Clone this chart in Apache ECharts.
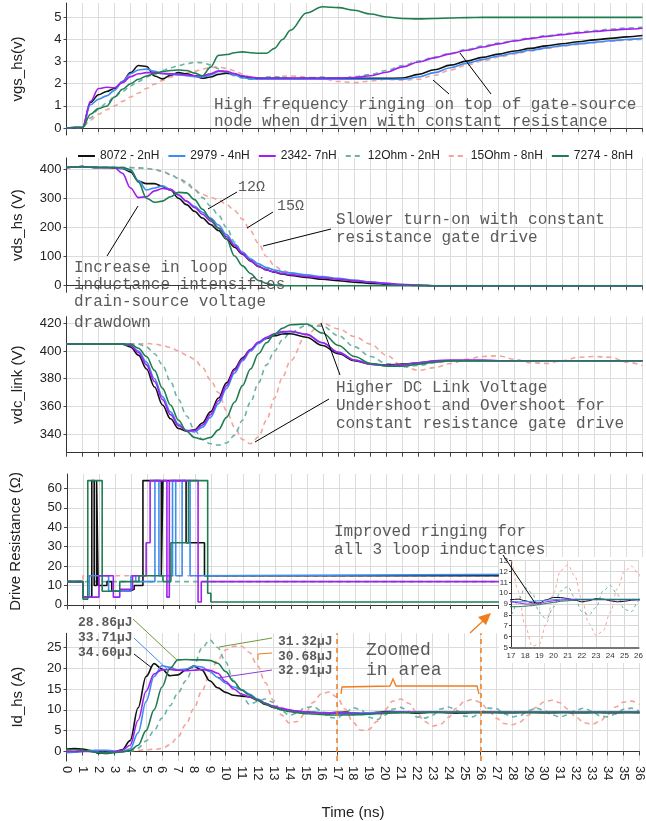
<!DOCTYPE html>
<html>
<head>
<meta charset="utf-8">
<script src="https://cdn.jsdelivr.net/npm/echarts@6/dist/echarts.min.js"></script>
<style>html,body{margin:0;padding:0;background:#fff}#chart{width:646px;height:821px}</style>
</head>
<body>
<div id="chart"></div>
<script>
// series names / legend
const names = ['8072 - 2nH', '2979 - 4nH', '2342- 7nH', '12Ohm - 2nH', '15Ohm - 8nH', '7274 - 8nH'];
const colors = ['#111111', '#3d8cf2', '#a020f0', '#6bb3a6', '#f5a39a', '#1f7d52'];
const dashed = [false, false, false, true, true, false];

// time base for vgs / vds / vdc (ns)
const t1 = [0,0.5,1,1.5,2,2.5,3,3.5,4,4.5,5,5.5,6,6.5,7,7.5,8,8.5,9,9.5,10,10.5,11,11.5,12,12.5,13,13.5,14,
  15,16,17,18,19,20,21,22,23,24,25,26,27,28,29,30,31,32,33,34,35,36];

// vgs_hs (V)
const vgsBlack = [0,0.02,0.02,1.15,1.5,1.65,1.78,2.1,2.5,2.82,2.78,2.35,2.22,2.38,2.5,2.45,2.35,2.25,2.3,2.42,2.48,2.42,2.32,2.26,2.24,2.24,2.24,2.24,2.24,
  2.24,2.24,2.24,2.24,2.24,2.24,2.26,2.42,2.63,2.84,3.02,3.19,3.34,3.48,3.6,3.71,3.81,3.9,3.98,4.05,4.12,4.18];
const vgsBlue = [0,0.02,0.02,1.05,1.3,1.45,1.7,2.1,2.45,2.62,2.66,2.56,2.46,2.42,2.4,2.36,2.32,2.3,2.4,2.55,2.54,2.4,2.28,2.22,2.2,2.2,2.2,2.2,2.2,
  2.2,2.2,2.2,2.2,2.2,2.2,2.2,2.3,2.5,2.72,2.92,3.09,3.25,3.39,3.51,3.62,3.72,3.8,3.87,3.94,4.0,4.05];
const vgsPurple = [0,0.02,0.02,1.2,1.78,1.84,1.82,2.05,2.32,2.45,2.5,2.5,2.46,2.45,2.44,2.4,2.36,2.36,2.45,2.58,2.56,2.46,2.36,2.3,2.26,2.25,2.25,2.25,2.25,
  2.25,2.25,2.26,2.28,2.36,2.52,2.76,2.98,3.17,3.35,3.51,3.66,3.8,3.93,4.04,4.14,4.22,4.3,4.36,4.42,4.47,4.51];
const vgsTeal = [0,0.02,0.02,0.45,0.85,1.12,1.4,1.65,1.9,2.1,2.3,2.45,2.6,2.72,2.82,2.9,2.96,2.95,2.85,2.68,2.5,2.36,2.26,2.2,2.22,2.3,2.32,2.28,2.22,
  2.25,2.3,2.2,2.32,2.42,2.6,2.82,3.02,3.2,3.38,3.55,3.7,3.84,3.96,4.07,4.17,4.25,4.33,4.4,4.47,4.52,4.55];
const vgsSalmon = [0,0.02,0.02,0.35,0.62,0.82,1.0,1.2,1.4,1.58,1.78,1.98,2.15,2.3,2.4,2.48,2.56,2.66,2.73,2.75,2.7,2.58,2.44,2.32,2.24,2.22,2.28,2.34,2.35,
  2.3,2.22,2.1,2.05,2.12,2.2,2.16,2.2,2.38,2.62,2.84,3.03,3.2,3.35,3.48,3.6,3.7,3.78,3.86,3.92,3.97,4.0];
const vgsGreen = [0,0.02,0.02,0.62,0.88,0.98,1.4,1.75,2.0,2.2,2.35,2.45,2.55,2.6,2.62,2.6,2.48,2.36,2.75,3.28,3.32,3.4,3.44,3.4,3.38,3.38,3.6,4.0,4.42,
  5.2,5.48,5.44,5.32,5.15,5.02,4.95,4.93,4.95,4.97,4.99,5,5,5,5,5,5,5,5,5,5,5];

// vds_hs (V)
const vdsBlack = [405,407,408,406,405,405,404,402,390,358,350,350,340,328,300,278,255,232,210,189,160,132,108,85,66,54,46,40,35,
  28,22,17,12,8,5,2.5,1,0,0,0,0,0,0,0,0,0,0,0,0,0,0];
const vdsBlue = [405,407,408,406,405,405,405,403,395,360,328,335,342,330,310,290,272,252,232,208,175,143,115,92,75,62,54,48,44,
  37,31,25,19,13,8,4,1.5,0,0,0,0,0,0,0,0,0,0,0,0,0,0];
const vdsPurple = [405,407,408,406,405,405,405,385,335,302,305,325,333,330,312,290,268,245,222,198,168,138,110,86,66,54,47,42,38,
  32,27,22,17,12,8,4,1.5,0,0,0,0,0,0,0,0,0,0,0,0,0,0];
const vdsTeal = [405,407,408,406,405,405,405,405,405,404,402,398,392,380,368,355,330,302,273,242,200,150,112,88,70,58,50,45,41,
  34,28,22,17,12,8,4,1.5,0,0,0,0,0,0,0,0,0,0,0,0,0,0];
const vdsSalmon = [405,407,408,406,405,405,405,405,405,404,402,398,392,382,368,348,328,313,303,295,278,258,228,188,145,100,68,52,44,
  34,27,21,15,10,5,2,0,0,0,0,0,0,0,0,0,0,0,0,0,0,0];
const vdsGreen = [405,407,408,406,405,405,405,405,398,355,300,286,290,305,320,318,295,262,228,198,160,102,68,42,18,8,2,0,0,
  0,0,0,0,0,0,0,0,0,0,0,0,0,0,0,0,0,0,0,0,0,0];

// vdc_link (V)
const vdcBlack = [405,405,405,405,405,405,405,405,403,397,387,374,361,351,344,342,343,348,356,366,377,387,395,401,406,409,411,412.3,412.5,
  410,404,398,393,390.5,389.8,390.5,391.5,392.5,393,393,393,393,393,393,393,393,393,393,393,393,393];
const vdcBlue = [405,405,405,405,405,405,405,405,404,400,392,380,367,356,347,342.5,341.5,345,352,362,373,384,393,400,405.5,409.5,412,413.5,414,
  412,406,399,393.5,390.5,389.5,390,391.5,392.5,393,393,393,393,393,393,393,393,393,393,393,393,393];
const vdcPurple = [405,405,405,405,405,405,405,405,404,399,390,378,365,354,346,342.5,342.5,346.5,354,364,375,386,394,401,406.5,410,412.5,414,414.3,
  412,406,399,393.5,390.5,389.5,390,391.5,393,393.5,393.5,393.5,393,393,393,393,393,393,393,393,393,393];
const vdcTeal = [405,405,405,405,405,405,405,405,405,405,403,398,390,378,365,353,343,336,333,332,333.5,339,350,363,377,390,400,408,413.5,
  418.5,418,411,403,396,391,388.5,389.5,391.5,393,393,393,393,393,393,393,393,393,393,393,393,393];
const vdcSalmon = [405,405,405,405,405,405,405,405,405,405,405.5,405,404,402.5,400,397,394,388,379,370,357,345,336,333,338,350,366,381,393,
  412,420,416,410.5,405,397,389,386,388,391,394,396,396.5,394,391.5,391,393,395.5,396,395.5,392,389.5];
const vdcGreen = [405,405,405,405,405,405,405,405,405,402,396,386,373,361,350,342,337.5,336,337.5,343,352,363,375,387,398,406,412,416.5,419,
  419.5,413,404,396,391,389,389,390.5,392,393,393,393,393,393,393,393,393,393,393,393,393,393];

// Drive resistance (ohm): change times and held values
const rBlackT = [0,1,1.55,1.7,1.85,1.95,2.5,2.8,3.9,4.2,4.75,5.9,6.0,7.45,8.6,36];
const rBlackV = [12,4,64,10,64,10,12,7,8,10,64,15,64,32,15,15];
const rBlueT = [0,1,1.4,2.6,4.0,4.3,5.5,5.75,6.6,6.8,7.2,7.7,8.1,36];
const rBlueV = [12,4,15,7,15,12,64,15,64,15,64,15,16,16];
const rPurpleT = [0,1,2.0,2.9,3.3,4.1,4.95,5.2,6.25,6.4,8.2,8.4,36];
const rPurpleV = [12,4,15,4,8,15,32,64,4,64,1.5,12,12];
const rTealT = [0,36];
const rTealV = [12,12];
const rSalmonT = [0,1,36];
const rSalmonV = [12,15,15];
const rGreenT = [0,1,1.3,2.2,3.3,4.5,6.0,6.5,7.6,8.8,9.0,36];
const rGreenV = [12,3,64,7,12,15,12,32,64,6,1.5,1.5];

// Id_hs (A), 0..36 ns every 0.5 ns
const t5 = Array.from({length: 73}, (_, i) => i * 0.5);
const idBlack = [0.5,0.7,0.6,0.2,-0.4,-0.5,-0.1,0.4,2.6,10.5,
  18,21.1,19.8,18.2,18.4,19.6,20.5,19.6,17,15.3,
  14.2,13.5,13.3,13.1,12.3,11.3,10.6,10.1,9.8,9.6,
  9.5,9.4,9.3,9.3,9.4,9.45,9.3,9.1,9.1,9.4,
  9.6,9.6,9.5,9.35,9.2,9.3,9.5,9.45,9.3,9.2,
  9.25,9.35,9.4,9.4,9.35,9.3,9.3,9.35,9.4,9.35,
  9.3,9.3,9.35,9.35,9.3,9.3,9.35,9.35,9.3,9.3,
  9.35,9.35,9.3];
const idBlue = [-0.3,-0.2,0,0.2,0.3,0.3,0.1,0,0.6,4.5,
  12,18,20.6,20.2,19.6,19.8,20.5,20.3,19.2,17.8,
  16.4,15.5,14.8,13.8,12.6,11.6,10.8,10.2,9.8,9.6,
  9.5,9.4,9.35,9.3,9.25,9.2,9.2,9.25,9.3,9.35,
  9.4,9.45,9.45,9.45,9.45,9.45,9.45,9.45,9.45,9.45,
  9.45,9.45,9.45,9.45,9.45,9.45,9.45,9.45,9.45,9.45,
  9.45,9.45,9.45,9.45,9.45,9.45,9.45,9.45,9.45,9.45,
  9.45,9.45,9.45];
const idPurple = [0,0,0,0,-0.2,-0.3,-0.1,0.3,1.5,7.5,
  14.5,18.6,19.6,19.7,19.5,19.4,19.5,19.7,19.5,18.8,
  16.8,15,13.8,13.1,12.4,11.6,10.9,10.4,10,9.7,
  9.5,9.35,9.25,9.2,9.2,9.1,9.0,9.0,9.05,9.2,
  9.3,9.35,9.4,9.4,9.4,9.4,9.4,9.4,9.4,9.4,
  9.4,9.4,9.4,9.4,9.4,9.4,9.4,9.4,9.4,9.4,
  9.4,9.4,9.4,9.4,9.4,9.4,9.4,9.4,9.4,9.4,
  9.4,9.4,9.4];
const idTeal = [0.7,0.6,0.4,0,-0.3,-0.3,-0.2,0,0.2,0.8,
  2.5,5,8,11,14,17,20.5,24.8,26.8,25,
  21.5,17,13.5,11.3,12,12.6,11.8,9.8,8.7,9.2,
  10.6,10.8,9.8,8.2,8.0,9.3,10.5,10.0,8.2,7.6,
  8.7,10.2,10.6,9.6,8.3,8.0,8.7,10.2,10.7,9.9,
  8.5,8.3,9.3,10.4,10.3,9.1,8.3,8.6,9.8,10.4,
  9.9,8.8,8.3,8.8,9.9,10.4,9.7,8.6,8.3,9.0,
  10.1,10.4,9.6];
const idSalmon = [0.3,0.3,0.2,0,-0.2,-0.3,-0.2,0,0.2,0.3,
  0.4,0.5,0.7,1.6,3.5,6.5,10.3,14.5,18.6,22,
  24.4,25.3,25.3,23.8,20.6,16.5,12.3,8.8,6.8,7.2,
  9.2,11.8,13.8,14.3,13,10.2,7.0,5.1,5.3,7.2,
  10,12.1,12.6,11.6,9.4,7.2,6.1,6.5,8.2,10.4,
  12.0,12.5,11.8,10.0,8.0,6.7,6.4,7.1,8.7,10.6,
  11.9,12.3,11.7,10.2,8.3,6.9,6.5,7.2,8.8,10.7,
  11.9,12.1,11.3];
const idGreen = [0.4,0.4,0.3,0,-0.3,-0.4,-0.3,-0.1,0.2,1.5,
  5,10,15.5,20,22,22.1,22,22,21.9,21.2,
  19.2,16.8,14.8,13.5,12.4,11.4,10.6,10,9.6,9.3,
  9.1,9.0,8.9,8.8,8.75,8.75,8.8,8.85,8.95,9.05,
  9.15,9.25,9.3,9.35,9.4,9.4,9.4,9.4,9.4,9.4,
  9.4,9.4,9.4,9.4,9.4,9.4,9.4,9.4,9.4,9.4,
  9.4,9.4,9.4,9.4,9.4,9.4,9.4,9.4,9.4,9.4,
  9.4,9.4,9.4];

// tick labels
const vgsTicks = [0, 1, 2, 3, 4, 5];
const vdsTicks = [0, 100, 200, 300, 400];
const vdcTicks = [340, 360, 380, 400, 420];
const resTicks = [0, 10, 20, 30, 40, 50, 60];
const idTicks = [0, 5, 10, 15, 20, 25];
const zoomRange = [17, 26];
const energyLeft = ['28.86µJ', '33.71µJ', '34.60µJ'];
const energyRight = ['31.32µJ', '30.68µJ', '32.91µJ'];

const zip = (t, v) => t.map((x, i) => [x, v[i]]);

const vgs = [vgsBlack, vgsBlue, vgsPurple, vgsTeal, vgsSalmon, vgsGreen];
const vds = [vdsBlack, vdsBlue, vdsPurple, vdsTeal, vdsSalmon, vdsGreen];
const vdc = [vdcBlack, vdcBlue, vdcPurple, vdcTeal, vdcSalmon, vdcGreen];
const resT = [rBlackT, rBlueT, rPurpleT, rTealT, rSalmonT, rGreenT];
const resV = [rBlackV, rBlueV, rPurpleV, rTealV, rSalmonV, rGreenV];
const ids = [idBlack, idBlue, idPurple, idTeal, idSalmon, idGreen];

const drawOrder = [4, 3, 0, 1, 2, 5];
const FONT = 'Liberation Sans';
const MONO = '"Liberation Mono", "DejaVu Sans Mono", monospace';
const NOTE = '#5a5a5a';
const ORANGE = '#f07c1e';

const chart = echarts.init(document.getElementById('chart'));

const grids = [
  {left: 66.5, width: 576, top: 3, height: 132},
  {left: 66.5, width: 576, top: 158, height: 134.3},
  {left: 66.5, width: 576, top: 316.7, height: 136},
  {left: 66.5, width: 576, top: 474, height: 135},
  {left: 66.5, width: 576, top: 633.3, height: 134},
  {left: 511, width: 129, top: 560.7, height: 86.6}
];

const yCfg = [
  {min: -0.32, max: 5.65, ticks: vgsTicks, name: 'vgs_hs(v)', gap: 41},
  {min: -22.6, max: 437.7, ticks: vdsTicks, name: 'vds_hs (V)', gap: 41},
  {min: 326.5, max: 424.8, ticks: vdcTicks, name: 'vdc_link (V)', gap: 41},
  {min: -2.1, max: 67.4, ticks: resTicks, name: 'Drive Resistance (Ω)', gap: 44},
  {min: -2.3, max: 28.4, ticks: idTicks, name: 'Id_hs (A)', gap: 41}
];

const xAxes = [0, 1, 2, 3, 4].map(i => ({
  type: 'value', gridIndex: i, min: 0, max: 36, interval: 1,
  axisLine: {lineStyle: {color: '#333', width: 1}},
  axisTick: {show: true, length: 4, lineStyle: {color: '#444'}},
  splitLine: {show: true, lineStyle: {color: '#dcdcdc', width: 1}},
  axisLabel: {show: i === 4, rotate: -90, fontSize: 13, color: '#222', fontFamily: FONT, margin: 5},
  name: i === 4 ? 'Time (ns)' : '',
  nameLocation: 'middle', nameGap: 44,
  nameTextStyle: {fontSize: 15, color: '#222', fontFamily: FONT}
}));
xAxes.push({
  type: 'value', gridIndex: 5, min: zoomRange[0], max: zoomRange[1], interval: 1, z: 60,
  axisLine: {lineStyle: {color: '#777', width: 2}},
  axisTick: {show: false},
  splitLine: {show: true, lineStyle: {color: '#d8d8d8'}},
  axisLabel: {fontSize: 8, color: '#333', fontFamily: FONT, margin: 4}
});

const yAxes = yCfg.map((c, i) => ({
  type: 'value', gridIndex: i, min: c.min, max: c.max,
  axisLine: {show: true, lineStyle: {color: '#333'}},
  axisTick: {show: true, length: 3, customValues: c.ticks, lineStyle: {color: '#444'}},
  axisLabel: {customValues: c.ticks, fontSize: 13, color: '#222', fontFamily: FONT, margin: 5},
  splitLine: {show: true, lineStyle: {color: '#dcdcdc'}},
  name: c.name, nameLocation: 'middle', nameGap: c.gap,
  nameTextStyle: {fontSize: 15, color: '#222', fontFamily: FONT}
}));
yAxes.push({
  type: 'value', gridIndex: 5, min: 5, max: 13, interval: 1, z: 60,
  axisLine: {show: true, lineStyle: {color: '#333'}},
  axisTick: {show: true, length: 2},
  axisLabel: {fontSize: 8, color: '#333', fontFamily: FONT, margin: 3},
  splitLine: {show: true, lineStyle: {color: '#d8d8d8'}}
});

function line(i, g, data, extra) {
  return Object.assign({
    name: names[i], type: 'line', xAxisIndex: g, yAxisIndex: g, data: data,
    symbol: 'none', smooth: 0.35, smoothMonotone: 'x', silent: true,
    itemStyle: {color: colors[i]},
    lineStyle: {color: colors[i], width: 1.6, type: dashed[i] ? [5, 4] : 'solid'}
  }, extra || {});
}

const series = [];
drawOrder.forEach(i => {
  series.push(line(i, 0, zip(t1, vgs[i])));
  series.push(line(i, 1, zip(t1, vds[i])));
  series.push(line(i, 2, zip(t1, vdc[i])));
  series.push(line(i, 3, zip(resT[i], resV[i]), {smooth: false, step: 'end'}));
  const idSeries = line(i, 4, zip(t5, ids[i]));
  if (i === 4) {
    idSeries.markLine = {
      symbol: 'none', silent: true, label: {show: false},
      lineStyle: {color: ORANGE, type: [5, 4], width: 1.5},
      data: zoomRange.map(v => ({xAxis: v}))
    };
  }
  series.push(idSeries);
  series.push(line(i, 5, zip(t5, ids[i]), {
    z: 70,
    lineStyle: {color: colors[i], width: 1, type: dashed[i] ? [3, 3] : 'solid'}
  }));
});

function txt(s, x, y, size, weight) {
  return {type: 'text', x: x, y: y, z: 100, silent: true,
    style: {text: s, fill: NOTE, font: (weight || 'normal') + ' ' + size + 'px ' + MONO,
      textVerticalAlign: 'middle', verticalAlign: 'middle'}};
}
function seg(pts, color, w) {
  return {type: 'polyline', z: 100, silent: true, shape: {points: pts},
    style: {stroke: color || '#000', lineWidth: w || 1, fill: null}};
}

const graphics = [
  {type: 'rect', z: 50, silent: true, shape: {x: 499, y: 557, width: 147, height: 106}, style: {fill: '#fff'}},
  txt('High frequency ringing on top of gate-source', 214, 105, 16),
  txt('node when driven with constant resistance', 214, 122, 16),
  seg([[449, 94], [433, 80]]), seg([[491, 94], [460, 53]]),
  txt('12Ω', 238, 187, 15), txt('15Ω', 277, 206, 15),
  seg([[237, 192], [208, 209]]), seg([[273, 212], [247, 228]]),
  txt('Slower turn-on with constant', 336, 220, 16),
  txt('resistance gate drive', 336, 238, 16),
  seg([[331, 229], [263, 246]]),
  txt('Increase in loop', 74, 268, 16),
  txt('inductance intensifies', 74, 285, 16),
  txt('drain-source voltage', 74, 302, 16),
  txt('drawdown', 74, 323, 16),
  seg([[107, 256], [138, 206]]),
  txt('Higher DC Link Voltage', 336, 388, 16),
  txt('Undershoot and Overshoot for', 336, 406, 16),
  txt('constant resistance gate drive', 336, 424, 16),
  seg([[340, 375], [321, 323]]), seg([[329, 399], [255, 442]]),
  txt('Improved ringing for', 334, 532, 16),
  txt('all 3 loop inductances', 334, 550, 16),
  seg([[503, 555], [535, 603]]),
  txt('Zoomed', 366, 650, 18), txt('in area', 366, 670, 18),
  seg([[341, 694], [342, 687], [390, 686], [393, 679], [396, 686], [477, 686], [479, 694]], ORANGE, 1.3),
  seg([[470, 633], [484, 620]], ORANGE, 1.3),
  {type: 'polygon', z: 100, silent: true, shape: {points: [[491, 613], [478, 617], [486, 625]]}, style: {fill: ORANGE}},
  txt(energyLeft[0], 78, 623, 13, 'bold'),
  txt(energyLeft[1], 78, 638, 13, 'bold'),
  txt(energyLeft[2], 78, 653, 13, 'bold'),
  txt(energyRight[0], 278, 642, 13, 'bold'),
  txt(energyRight[1], 278, 657, 13, 'bold'),
  txt(energyRight[2], 278, 671, 13, 'bold'),
  seg([[133, 619], [178, 661]], '#6a9a3c'),
  seg([[134, 638], [168, 670]], '#3d8cf2'),
  seg([[134, 654], [152, 668]], '#111'),
  seg([[272, 638], [219, 647]], '#6a9a3c'),
  seg([[272, 653], [258, 654], [258, 660]], ORANGE),
  seg([[272, 670], [218, 678]], '#8a3fd0')
];

chart.setOption({
  animation: false,
  backgroundColor: '#fff',
  textStyle: {fontFamily: FONT},
  legend: {
    top: 145, left: 72, width: 572, itemWidth: 17, itemHeight: 10, itemGap: 8, selectedMode: false,
    itemStyle: {opacity: 0},
    data: names, textStyle: {fontSize: 12, color: '#222', fontFamily: FONT}
  },
  grid: grids,
  xAxis: xAxes,
  yAxis: yAxes,
  series: series,
  graphic: graphics
});
</script>
</body>
</html>
